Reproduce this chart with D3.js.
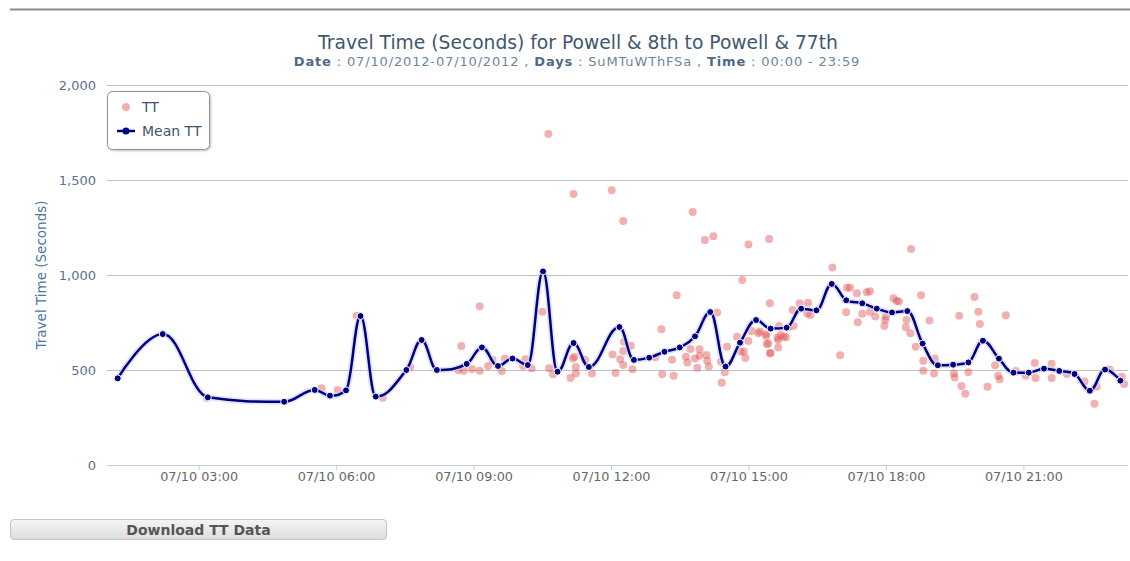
<!DOCTYPE html>
<html>
<head>
<meta charset="utf-8">
<script src="https://cdn.jsdelivr.net/npm/d3@7"></script>
<style>
  body { margin: 0; background: #fff; }
  #wrap { position: relative; width: 1130px; height: 561px; overflow: hidden; }
  #btn {
    position: absolute; left: 10px; top: 519px; width: 377px; height: 21px;
    border: 1px solid #c4c4c4; border-radius: 4px;
    background: linear-gradient(#f4f4f4, #dedede);
    font: bold 14px "DejaVu Sans", sans-serif; color: #555;
    text-align: center; line-height: 21px; box-sizing: border-box;
  }
</style>
</head>
<body>
<div id="wrap"><div id="chart"></div><div id="btn">Download TT Data</div></div>
<script>
const day = '2012-07-10'

// Mean TT (spline)
const meanTimes = ['01:14', '02:13', '03:12', '04:52', '05:32', '05:52', '06:13', '06:32', '06:52', '07:32',
  '07:52', '08:12', '08:51', '09:11', '09:32', '09:51', '10:11', '10:31', '10:50', '11:11',
  '11:31', '12:11', '12:30', '12:50', '13:10', '13:30', '13:50', '14:10', '14:30', '14:49',
  '15:10', '15:29', '15:50', '16:09', '16:29', '16:49', '17:08', '17:29', '17:48', '18:08',
  '18:28', '18:48', '19:08', '19:28', '19:48', '20:07', '20:28', '20:47', '21:07', '21:27',
  '21:47', '22:07', '22:27', '22:47', '23:07']
const meanValues = [456, 689, 356, 333, 395, 365, 393, 784, 360, 500,
  658, 500, 532, 619, 521, 560, 526, 1019, 491, 642,
  516, 726, 553, 565, 596, 619, 677, 805, 518, 644,
  763, 718, 723, 823, 814, 953, 867, 851, 823, 803,
  810, 639, 525, 528, 540, 654, 560, 486, 486, 507,
  495, 479, 391, 502, 444]

// TT (scatter)
const ttTimes = ['03:11', '05:41', '06:02', '06:27', '07:01', '07:37', '08:40', '08:44', '08:47', '08:58',
  '09:08', '09:08', '09:19', '09:25', '09:37', '09:41', '10:05', '10:08', '10:16', '10:30',
  '10:38', '10:39', '10:44', '11:07', '11:10', '11:11', '11:12', '11:14', '11:14', '11:26',
  '11:35', '12:01', '12:02', '12:06', '12:12', '12:16', '12:16', '12:16', '12:17', '12:26',
  '12:28', '12:58', '13:06', '13:07', '13:20', '13:22', '13:26', '13:38', '13:40', '13:44',
  '13:47', '13:50', '13:53', '13:56', '13:56', '14:03', '14:05', '14:06', '14:08', '14:14',
  '14:19', '14:24', '14:25', '14:29', '14:32', '14:45', '14:50', '14:52', '14:54', '14:56',
  '15:00', '15:00', '15:04', '15:13', '15:15', '15:23', '15:23', '15:24', '15:26', '15:27',
  '15:28', '15:28', '15:29', '15:38', '15:39', '15:39', '15:40', '15:42', '15:46', '15:49',
  '15:52', '15:58', '15:59', '16:07', '16:17', '16:18', '16:21', '16:50', '17:00', '17:08',
  '17:09', '17:13', '17:22', '17:23', '17:29', '17:35', '17:39', '17:39', '17:46', '17:58',
  '17:59', '18:00', '18:10', '18:14', '18:17', '18:26', '18:27', '18:32', '18:33', '18:39',
  '18:46', '18:49', '18:49', '18:57', '19:03', '19:04', '19:29', '19:30', '19:36', '19:39',
  '19:44', '19:48', '19:56', '20:01', '20:03', '20:13', '20:23', '20:27', '20:29', '20:37',
  '20:50', '21:03', '21:15', '21:16', '21:37', '21:37', '21:57', '22:20', '22:33', '22:36',
  '22:53', '23:09', '23:12']
const ttValues = [353, 404, 395, 786, 354, 514, 500, 626, 496, 505,
  835, 496, 521, 553, 495, 561, 521, 556, 509, 807,
  1742, 509, 477, 458, 561, 1426, 570, 482, 516, 553,
  481, 1446, 582, 484, 556, 1284, 600, 526, 649, 628,
  504, 567, 714, 477, 554, 470, 893, 570, 540, 611,
  1332, 561, 512, 609, 575, 1184, 579, 549, 519, 1204,
  802, 544, 433, 488, 623, 675, 596, 974, 598, 563,
  1161, 653, 705, 693, 702, 689, 677, 637, 640, 1189,
  851, 588, 589, 670, 619, 658, 732, 684, 675, 672,
  725, 816, 732, 851, 798, 854, 789, 1040, 577, 804,
  933, 933, 904, 751, 796, 909, 914, 807, 781, 732,
  763, 781, 877, 863, 860, 725, 763, 693, 1137, 623,
  893, 549, 496, 760, 482, 561, 482, 461, 786, 416,
  375, 488, 884, 807, 742, 412, 525, 470, 451, 788,
  495, 470, 537, 458, 533, 458, 479, 440, 323, 412,
  502, 465, 426]

const yTicks = [0, 500, 1000, 1500, 2000]

const width = 1130
const height = 561
const plotLeft = 107
const plotRight = 1128
const plotTop = 85
const plotBottom = 465
const font = '"DejaVu Sans", sans-serif'
const ttColor = 'rgba(223, 83, 83, 0.45)'

const parse = d3.timeParse('%Y-%m-%d %H:%M')
const toDate = (t) => parse(day + ' ' + t)

const x = d3.scaleTime()
  .domain([toDate('01:00'), toDate('23:17')])
  .range([plotLeft, plotRight])
const y = d3.scaleLinear().domain([0, 2000]).range([plotBottom, plotTop])

const svg = d3.select('#chart')
  .append('svg')
  .attr('width', width)
  .attr('height', height)
  .style('display', 'block')

const defs = svg.append('defs')
const sh = defs.append('filter').attr('id', 'legShadow').attr('x', '-10%').attr('y', '-10%')
  .attr('width', '130%').attr('height', '130%')
sh.append('feDropShadow').attr('dx', 1).attr('dy', 1).attr('stdDeviation', 1.2)
  .attr('flood-color', '#000').attr('flood-opacity', 0.25)

// top rule
svg.append('line')
  .attr('x1', 10).attr('x2', width).attr('y1', 9.5).attr('y2', 9.5)
  .attr('stroke', '#8a8a8a').attr('stroke-width', 2)

// titles
svg.append('text')
  .attr('x', 578).attr('y', 49)
  .attr('text-anchor', 'middle')
  .attr('font-family', font).attr('font-size', '18.7px')
  .attr('fill', '#3E576F')
  .text('Travel Time (Seconds) for Powell & 8th to Powell & 77th')

const sub = svg.append('text')
  .attr('x', 577).attr('y', 66)
  .attr('text-anchor', 'middle')
  .attr('font-family', font).attr('font-size', '13px')
  .attr('letter-spacing', '0.85px')
  .attr('fill', '#6D869F')
const subParts = [['Date', true], [' : 07/10/2012-07/10/2012 , ', false], ['Days', true],
  [' : SuMTuWThFSa , ', false], ['Time', true], [' : 00:00 - 23:59', false]]
subParts.forEach(([t, b]) => {
  sub.append('tspan').attr('font-weight', b ? 'bold' : 'normal')
    .attr('fill', b ? '#4d6a8a' : '#6D869F').text(t)
})

// grid
svg.append('g')
  .selectAll('line')
  .data(yTicks.filter((d) => d > 0))
  .enter()
  .append('line')
  .attr('x1', plotLeft).attr('x2', plotRight)
  .attr('y1', (d) => Math.round(y(d)) + 0.5)
  .attr('y2', (d) => Math.round(y(d)) + 0.5)
  .attr('stroke', '#C0C0C0')

// y labels
svg.append('g')
  .selectAll('text')
  .data(yTicks)
  .enter()
  .append('text')
  .attr('x', 96)
  .attr('y', (d) => y(d) + 4.5)
  .attr('text-anchor', 'end')
  .attr('font-family', font).attr('font-size', '13px')
  .attr('fill', '#5b7090')
  .text(d3.format(','))

svg.append('text')
  .attr('transform', `translate(46, 275) rotate(-90)`)
  .attr('text-anchor', 'middle')
  .attr('font-family', font).attr('font-size', '13.5px')
  .attr('fill', '#4d759e')
  .text('Travel Time (Seconds)')

// x axis
const xAxis = d3.axisBottom(x)
  .ticks(d3.timeHour.every(3))
  .tickFormat(d3.timeFormat('%m/%d %H:%M'))
  .tickSize(5)
  .tickSizeOuter(0)
const gx = svg.append('g')
  .attr('transform', `translate(0, ${plotBottom + 0.5})`)
  .call(xAxis)
gx.select('.domain').attr('stroke', '#C0D0E0').attr('d', `M${plotLeft},0H${plotRight}`)
gx.selectAll('.tick line').attr('stroke', '#C0D0E0')
gx.selectAll('.tick text')
  .attr('font-family', font).attr('font-size', '12.8px')
  .attr('fill', '#666').attr('dy', '0.55em').attr('y', 8.5)

// scatter TT
svg.append('g')
  .selectAll('circle')
  .data(ttTimes.map((t, i) => ({ t: toDate(t), v: ttValues[i] })))
  .enter()
  .append('circle')
  .attr('cx', (d) => x(d.t))
  .attr('cy', (d) => y(d.v))
  .attr('r', 4)
  .attr('fill', ttColor)

// spline like the original chart's smoothing
function splinePath (pts) {
  const p = d3.path()
  const smoothing = 1.5
  const denom = smoothing + 1
  let lastR = null
  pts.forEach(([px, py], i) => {
    let lx = px, ly = py, rx = px, ry = py
    if (i > 0 && i < pts.length - 1) {
      const [ax, ay] = pts[i - 1]
      const [nx, ny] = pts[i + 1]
      lx = (smoothing * px + ax) / denom
      ly = (smoothing * py + ay) / denom
      rx = (smoothing * px + nx) / denom
      ry = (smoothing * py + ny) / denom
      const corr = ((ry - ly) * (rx - px)) / (rx - lx) + py - ry
      ly += corr
      ry += corr
      if (ly > ay && ly > py) { ly = Math.max(ay, py); ry = 2 * py - ly } else if (ly < ay && ly < py) { ly = Math.min(ay, py); ry = 2 * py - ly }
      if (ry > ny && ry > py) { ry = Math.max(ny, py); ly = 2 * py - ry } else if (ry < ny && ry < py) { ry = Math.min(ny, py); ly = 2 * py - ry }
    }
    if (i === 0) p.moveTo(px, py)
    else p.bezierCurveTo(lastR[0], lastR[1], lx, ly, px, py)
    lastR = [rx, ry]
  })
  return p.toString()
}

const meanData = meanTimes.map((t, i) => ({ t: toDate(t), v: meanValues[i] }))
const meanPts = meanData.map((d) => [x(d.t), y(d.v)])
const meanD = splinePath(meanPts)

svg.append('path')
  .attr('d', meanD)
  .attr('fill', 'none')
  .attr('stroke', '#d2d2f4')
  .attr('stroke-width', 6)
  .attr('stroke-linejoin', 'round')
  .attr('opacity', 0.6)
svg.append('path')
  .attr('d', meanD)
  .attr('fill', 'none')
  .attr('stroke', '#000080')
  .attr('stroke-width', 2.5)
  .attr('stroke-linejoin', 'round')

svg.append('g')
  .selectAll('circle')
  .data(meanData)
  .enter()
  .append('circle')
  .attr('cx', (d) => x(d.t))
  .attr('cy', (d) => y(d.v))
  .attr('r', 3.5)
  .attr('fill', '#000080')
  .attr('stroke', '#fff')
  .attr('stroke-width', 1)

// legend
const leg = svg.append('g')
leg.append('rect')
  .attr('x', 107.5).attr('y', 91.5).attr('width', 102).attr('height', 58)
  .attr('rx', 5).attr('fill', '#fff')
  .attr('stroke', '#909090').attr('stroke-width', 1)
  .attr('filter', 'url(#legShadow)')
leg.append('circle').attr('cx', 126).attr('cy', 107)
  .attr('r', 4).attr('fill', ttColor)
leg.append('text').attr('x', 142).attr('y', 112)
  .attr('font-family', font).attr('font-size', '14px').attr('fill', '#3E576F')
  .text('TT')
leg.append('line').attr('x1', 117).attr('x2', 135).attr('y1', 131).attr('y2', 131)
  .attr('stroke', '#000080').attr('stroke-width', 2.5)
leg.append('circle').attr('cx', 126).attr('cy', 131)
  .attr('r', 3.5).attr('fill', '#000080')
leg.append('text').attr('x', 142).attr('y', 136)
  .attr('font-family', font).attr('font-size', '14px').attr('fill', '#3E576F')
  .text('Mean TT')
</script>
</body>
</html>
